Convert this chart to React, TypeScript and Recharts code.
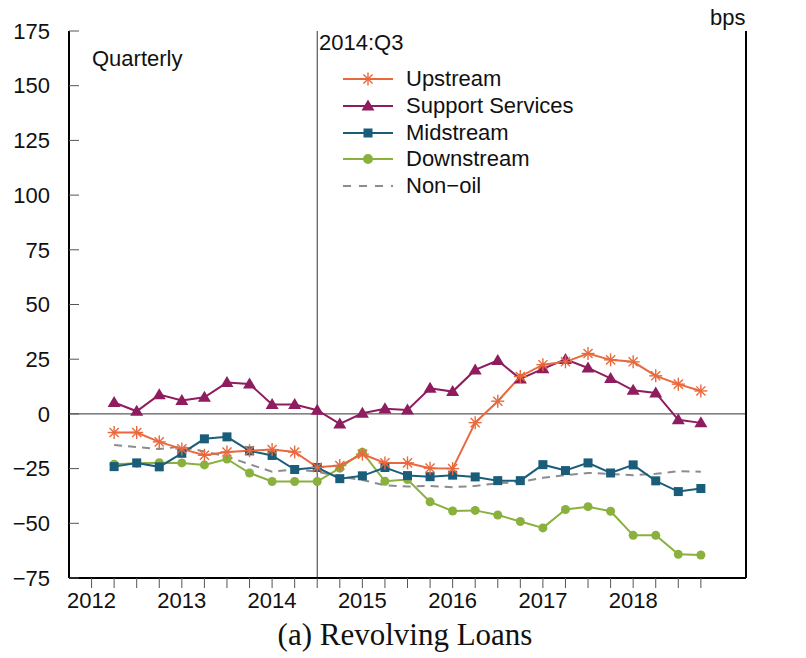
import React from 'react';
import { LineChart, Line, XAxis, YAxis, ReferenceLine } from 'recharts';

const QUARTERS = [
  '2012:Q2', '2012:Q3', '2012:Q4',
  '2013:Q1', '2013:Q2', '2013:Q3', '2013:Q4',
  '2014:Q1', '2014:Q2', '2014:Q3', '2014:Q4',
  '2015:Q1', '2015:Q2', '2015:Q3', '2015:Q4',
  '2016:Q1', '2016:Q2', '2016:Q3', '2016:Q4',
  '2017:Q1', '2017:Q2', '2017:Q3', '2017:Q4',
  '2018:Q1', '2018:Q2', '2018:Q3', '2018:Q4',
];

const UPSTREAM = [
  -8.5, -8.5, -12.8, -16, -18.9, -17.4, -16.8, -16.3, -17.4, -24.4, -23.6, -18.4, -22.4, -22.4,
  -24.8, -25, -4, 5.8, 17.1, 22.5, 23.8, 27.6, 24.7, 23.8, 17.4, 13.6, 10.5,
];
const SUPPORT = [
  5.2, 1.2, 8.8, 6.1, 7.6, 14.3, 13.7, 4.3, 4.3, 1.7, -4.6, 0.3, 2.4, 1.8,
  11.7, 10.2, 20.1, 24.4, 16, 20.6, 24.9, 21, 16.2, 10.8, 9.6, -2.7, -4.1,
];
const MIDSTREAM = [
  -24.1, -22.4, -24.2, -18, -11.4, -10.5, -16.9, -19, -25.4, -24.5, -29.6, -28.3, -24.5, -28.2,
  -28.7, -28, -28.8, -30.5, -30.5, -23.2, -25.9, -22.4, -27, -23.3, -30.6, -35.5, -34.1,
];
const DOWNSTREAM = [
  -23, -22.5, -22.3, -22.4, -23.3, -20.6, -27, -30.9, -30.9, -30.9, -24.8, -17.5, -30.8, -30,
  -40.2, -44.4, -44.1, -46.2, -49.2, -52.1, -43.7, -42.4, -44.5, -55.5, -55.5, -64.2, -64.5,
];
const NON_OIL = [
  -14.2, -15.2, -16, -15, -17.2, -19.5, -23, -26.4, -25.3, -26.4, -28.7, -30.2, -32.6, -33.2,
  -32.9, -33.5, -32.9, -31.7, -31.1, -29.2, -28, -27, -27.4, -28, -27.4, -26.2, -26.4,
];

const X_TICKS = [
  2012, 2012.25, 2012.5, 2012.75, 2013, 2013.25, 2013.5, 2013.75,
  2014, 2014.25, 2014.5, 2014.75, 2015, 2015.25, 2015.5, 2015.75,
  2016, 2016.25, 2016.5, 2016.75, 2017, 2017.25, 2017.5, 2017.75,
  2018, 2018.25, 2018.5, 2018.75,
];
const Y_TICKS = [-75, -50, -25, 0, 25, 50, 75, 100, 125, 150, 175];

const ORANGE = '#e8693d';
const PLUM = '#8e1c5e';
const TEAL = '#1a5d7a';
const OLIVE = '#8ab03e';
const GREY = '#8c8c8c';
const FONT = '"Liberation Sans", Arial, sans-serif';
const FS = 22;

// "2014:Q3" -> 2014.5 (Q1 sits on the year tick)
const toYear = (q: string) => {
  const [y, qq] = q.split(':Q');
  return Number(y) + (Number(qq) - 1) / 4;
};

const data = QUARTERS.map((q, i) => ({
  t: toYear(q),
  up: UPSTREAM[i],
  sup: SUPPORT[i],
  mid: MIDSTREAM[i],
  down: DOWNSTREAM[i],
  non: NON_OIL[i],
}));

function Asterisk({ cx, cy, r = 6.5 }: { cx: number; cy: number; r?: number }) {
  const d = r * 0.7;
  return (
    <g stroke={ORANGE} strokeWidth={1.4}>
      <line x1={cx - r} y1={cy} x2={cx + r} y2={cy} />
      <line x1={cx} y1={cy - r} x2={cx} y2={cy + r} />
      <line x1={cx - d} y1={cy - d} x2={cx + d} y2={cy + d} />
      <line x1={cx - d} y1={cy + d} x2={cx + d} y2={cy - d} />
    </g>
  );
}
const triPts = (cx: number, cy: number) =>
  `${cx},${cy - 6.5} ${cx + 6.5},${cy + 4.5} ${cx - 6.5},${cy + 4.5}`;

const upDot = (p: any) => <Asterisk key={`u${p.index}`} cx={p.cx} cy={p.cy} />;
const supDot = (p: any) => <polygon key={`s${p.index}`} points={triPts(p.cx, p.cy)} fill={PLUM} />;
const midDot = (p: any) => <rect key={`m${p.index}`} x={p.cx - 4.5} y={p.cy - 4.5} width={9} height={9} fill={TEAL} />;
const downDot = (p: any) => <circle key={`d${p.index}`} cx={p.cx} cy={p.cy} r={4.5} fill={OLIVE} />;

const fmt = (v: number) => (v < 0 ? '\u2212' + Math.abs(v) : String(v));

function LeftTick({ x, y, payload }: any) {
  return (
    <g>
      <line x1={x} y1={y} x2={x + 10} y2={y} stroke="#555" strokeWidth={1} />
      <text x={x - 19} y={y} dy="0.35em" textAnchor="end" fontSize={FS} fontFamily={FONT} fill="#111">
        {fmt(payload.value)}
      </text>
    </g>
  );
}
function RightTick({ x, y, payload }: any) {
  return (
    <g>
      <line x1={x - 10} y1={y} x2={x} y2={y} stroke="#555" strokeWidth={1} />
      <text x={x + 19} y={y} dy="0.35em" textAnchor="start" fontSize={FS} fontFamily={FONT} fill="#111">
        {fmt(payload.value)}
      </text>
    </g>
  );
}

const LEGEND_ROWS = [
  { name: 'Upstream', mark: (cx: number, cy: number) => <Asterisk cx={cx} cy={cy} />, color: ORANGE },
  { name: 'Support Services', mark: (cx: number, cy: number) => <polygon points={triPts(cx, cy)} fill={PLUM} />, color: PLUM },
  { name: 'Midstream', mark: (cx: number, cy: number) => <rect x={cx - 4.5} y={cy - 4.5} width={9} height={9} fill={TEAL} />, color: TEAL },
  { name: 'Downstream', mark: (cx: number, cy: number) => <circle cx={cx} cy={cy} r={5} fill={OLIVE} />, color: OLIVE },
  { name: 'Non\u2212oil', mark: null, color: GREY },
];

function LegendBox() {
  return (
    <div style={{ position: 'absolute', left: 342, top: 66, fontFamily: FONT, fontSize: FS, color: '#111' }}>
      {LEGEND_ROWS.map((r) => (
        <div key={r.name} style={{ display: 'flex', alignItems: 'center', height: 26.7 }}>
          <svg width={52} height={20} style={{ marginRight: 12 }}>
            <line x1={1} y1={10} x2={51} y2={10} stroke={r.color} strokeWidth={2}
              strokeDasharray={r.mark ? undefined : '8 8'} />
            {r.mark && r.mark(26, 10)}
          </svg>
          <span>{r.name}</span>
        </div>
      ))}
    </div>
  );
}

const txt = (left: number, top: number): React.CSSProperties => ({
  position: 'absolute', left, top, fontFamily: FONT, fontSize: FS, color: '#111', lineHeight: '24px',
});

export default function App() {
  return (
    <div style={{ position: 'absolute', left: 0, top: 0, width: 806, height: 658, background: '#fff' }}>
      <LineChart width={806} height={658} data={data} margin={{ top: 31, right: 0, bottom: 0, left: 0 }}>
        <XAxis
          dataKey="t"
          type="number"
          domain={[2011.75, 2019.25]}
          ticks={X_TICKS}
          interval={0}
          height={80}
          tickSize={10}
          tickMargin={4}
          axisLine={{ stroke: '#000', strokeWidth: 2 }}
          tickLine={{ stroke: '#555' }}
          tick={{ fontSize: FS, fontFamily: FONT, fill: '#111' }}
          tickFormatter={(v: number) => (Number.isInteger(v) ? String(v) : '')}
        />
        <YAxis
          yAxisId="left"
          domain={[-75, 175]}
          ticks={Y_TICKS}
          interval={0}
          width={69}
          tickSize={0}
          tickMargin={0}
          tickLine={false}
          axisLine={{ stroke: '#000', strokeWidth: 2 }}
          tick={<LeftTick />}
        />
        <YAxis
          yAxisId="right"
          orientation="right"
          domain={[-75, 175]}
          ticks={Y_TICKS}
          interval={0}
          width={60}
          tickSize={0}
          tickMargin={0}
          tickLine={false}
          axisLine={{ stroke: '#000', strokeWidth: 2 }}
          tick={<RightTick />}
        />
        <ReferenceLine yAxisId="left" y={0} stroke="#333" strokeWidth={1} />
        <ReferenceLine yAxisId="left" x={2014.5} stroke="#333" strokeWidth={1} />
        <Line yAxisId="left" dataKey="non" stroke={GREY} strokeWidth={2} strokeDasharray="8 6" dot={false} isAnimationActive={false} />
        <Line yAxisId="left" dataKey="down" stroke={OLIVE} strokeWidth={2} dot={downDot} isAnimationActive={false} />
        <Line yAxisId="left" dataKey="mid" stroke={TEAL} strokeWidth={2} dot={midDot} isAnimationActive={false} />
        <Line yAxisId="left" dataKey="sup" stroke={PLUM} strokeWidth={2} dot={supDot} isAnimationActive={false} />
        <Line yAxisId="left" dataKey="up" stroke={ORANGE} strokeWidth={2} dot={upDot} isAnimationActive={false} />
      </LineChart>
      <LegendBox />
      <div style={txt(92, 47)}>Quarterly</div>
      <div style={txt(319, 31)}>2014:Q3</div>
      <div style={txt(710, 6)}>bps</div>
      <div style={{ position: 'absolute', left: 0, width: 810, top: 615, textAlign: 'center', fontFamily: '"Liberation Serif", serif', fontSize: 31, lineHeight: '40px', color: '#111' }}>
        (a) Revolving Loans
      </div>
    </div>
  );
}
